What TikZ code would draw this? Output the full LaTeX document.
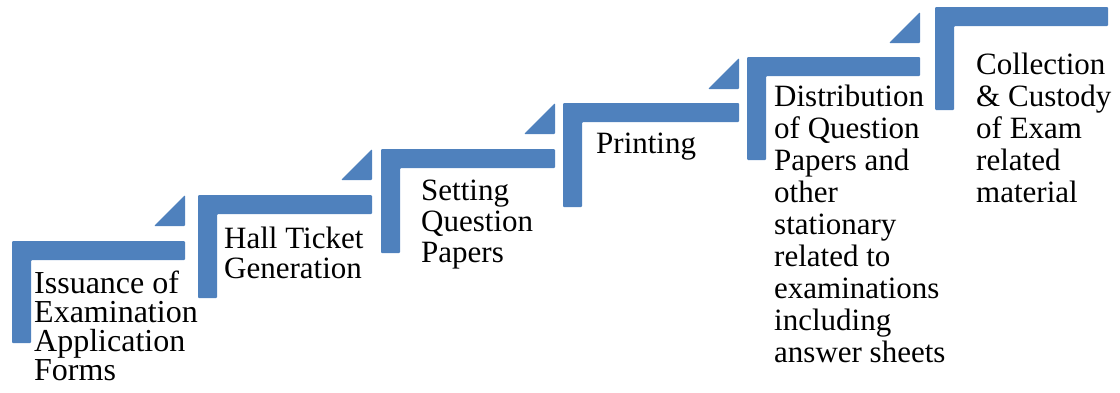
\documentclass[tikz,border=0pt]{standalone}
\usepackage{fontspec}
\setmainfont{Liberation Serif}
\definecolor{stepblue}{RGB}{79,129,189}

\begin{document}
\begin{tikzpicture}[x=1pt,y=-1pt]

        \useasboundingbox (0,0) rectangle (1120,392);

        \begin{scope}[every path/.style={fill=stepblue,rounded corners=1pt}]
          % steps
          \path (12,241)  -- (185,241)  -- (185,260)  -- (31,260)  -- (31,343)  -- (12,343)  -- cycle;
          \path (198,195) -- (372,195)  -- (372,214)  -- (217,214) -- (217,298) -- (198,298) -- cycle;
          \path (381,149) -- (555,149)  -- (555,168)  -- (400,168) -- (400,253) -- (381,253) -- cycle;
          \path (563,103) -- (739,103)  -- (739,122)  -- (582,122) -- (582,207) -- (563,207) -- cycle;
          \path (747,57)  -- (920,57)   -- (920,76)   -- (766,76)  -- (766,160) -- (747,160) -- cycle;
          \path (935,7)   -- (1108,7)   -- (1108,26)  -- (954,26)  -- (954,110) -- (935,110) -- cycle;
          % arrow heads
          \path (154,226) -- (185,226)  -- (185,195)  -- cycle;
          \path (341,180) -- (372,180)  -- (372,149)  -- cycle;
          \path (524,134) -- (555,134)  -- (555,103)  -- cycle;
          \path (708,89)  -- (739,89)   -- (739,58)   -- cycle;
          \path (889,43)  -- (920,43)   -- (920,12)   -- cycle;
        \end{scope}

        % anchor is the baseline of the last line
        \begin{scope}[every node/.style={anchor=base west,align=left,inner sep=0pt,
                      font=\fontsize{31}{32}\selectfont}]
          \node[font=\fontsize{32}{29}\selectfont] (issue) at (34,380) {Issuance of\\Examination\\Application\\Forms};
          \node[font=\fontsize{31}{30}\selectfont] (ticket) at (224,278) {Hall Ticket\\Generation};
          \node[font=\fontsize{31}{31}\selectfont] (setting) at (421,262) {Setting\\Question\\Papers};
          \node (printing)     at (596,153) {Printing};
          \node (distribution) at (774,362) {Distribution\\of Question\\Papers and\\other\\stationary\\related to\\examinations\\including\\answer sheets};
          \node (custody)      at (976,202) {Collection\\\& Custody\\of Exam\\related\\material};
        \end{scope}

      \end{tikzpicture}
\end{document}
